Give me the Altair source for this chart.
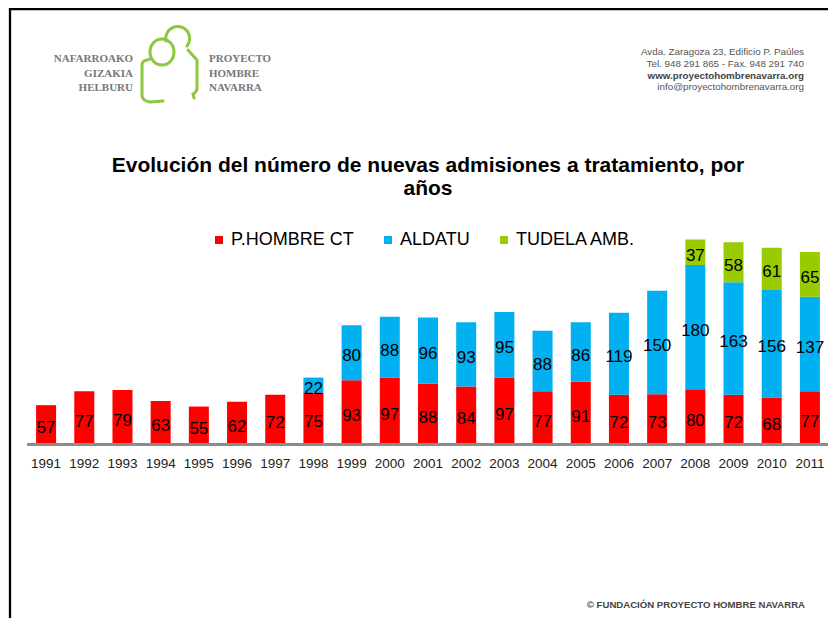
import altair as alt
import pandas as pd

# ---------------- data ----------------
years = ["1991", "1992", "1993", "1994", "1995", "1996", "1997", "1998", "1999", "2000",
         "2001", "2002", "2003", "2004", "2005", "2006", "2007", "2008", "2009", "2010", "2011"]
phombre = [57, 77, 79, 63, 55, 62, 72, 75, 93, 97, 88, 84, 97, 77, 91, 72, 73, 80, 72, 68, 77]
aldatu = [None, None, None, None, None, None, None, 22, 80, 88, 96, 93, 95, 88, 86, 119, 150, 180, 163, 156, 137]
tudela = [None, None, None, None, None, None, None, None, None, None, None, None, None, None, None, None, None, 37, 58, 61, 65]
series = ["P.HOMBRE CT", "ALDATU", "TUDELA AMB."]
colors = ["#FF0000", "#00B0F0", "#99CC00"]

title_lines = ["Evolución del número de nuevas admisiones a tratamiento, por", "años"]
logo_left = "NAFARROAKO\nGIZAKIA\nHELBURU"
logo_right = "PROYECTO\nHOMBRE\nNAVARRA"
addr_lines = ["Avda. Zaragoza 23, Edificio P. Paúles", "Tel. 948 291 865 - Fax. 948 291 740"]
web_line = "www.proyectohombrenavarra.org"
mail_line = "info@proyectohombrenavarra.org"
footer = "© FUNDACIÓN PROYECTO HOMBRE NAVARRA"

rows = []
for i, yr in enumerate(years):
    for k, (name, vals) in enumerate(zip(series, [phombre, aldatu, tudela])):
        v = vals[i]
        if v is not None:
            rows.append({"year": yr, "series": name, "value": v, "order": k})
df = pd.DataFrame(rows)

FONT = "Liberation Sans"
one = pd.DataFrame({"k": [0]})

x_scale = alt.Scale(domain=years, range=[19, 821], paddingInner=0.476, paddingOuter=0.238)
y_scale = alt.Scale(domain=[0, 300], range=[436.5, 229.5], nice=False, zero=True)

stacked = alt.Chart(df).transform_stack(
    stack="value", groupby=["year"], as_=["v0", "v1"],
    sort=[alt.SortField("order", order="ascending")]
).transform_calculate(mid="(datum.v0 + datum.v1) / 2")

bars = stacked.mark_bar().encode(
    x=alt.X("year:N", scale=x_scale, axis=None),
    y=alt.Y("v0:Q", scale=y_scale, axis=None),
    y2="v1:Q",
    color=alt.Color(
        "series:N",
        scale=alt.Scale(domain=series, range=colors),
        legend=alt.Legend(
            title=None, orient="none", legendX=202, legendY=223, direction="horizontal",
            symbolType="square", symbolSize=64, symbolStrokeWidth=0,
            labelFont=FONT, labelFontSize=18, labelColor="#000000",
            labelOffset=3, columnPadding=25, padding=0,
        ),
    ),
)

labels = stacked.mark_text(font=FONT, fontSize=17, color="#000000", baseline="alphabetic", dy=8.6).encode(
    x=alt.X("year:N", scale=x_scale, axis=None),
    y=alt.Y("mid:Q", scale=y_scale, axis=None),
    text="value:Q",
)

baseline = alt.Chart(one).mark_rule(color="#8c8c8c", strokeWidth=3).encode(
    y=alt.datum(0, scale=y_scale), x=alt.value(19), x2=alt.value(828)
)

year_labels = alt.Chart(pd.DataFrame({"year": years})).mark_text(
    font=FONT, fontSize=13.5, color="#222222", baseline="alphabetic"
).encode(x=alt.X("year:N", scale=x_scale, axis=None), y=alt.value(460), text="year:N")

# ---------------- decorations ----------------
frame_top = alt.Chart(one).mark_rule(color="#000000", strokeWidth=2.3).encode(
    x=alt.value(1), x2=alt.value(820), y=alt.value(1)
)
frame_left = alt.Chart(one).mark_rule(color="#000000", strokeWidth=2.3).encode(
    x=alt.value(2), y=alt.value(0), y2=alt.value(621)
)

title1 = alt.Chart(one).mark_text(font=FONT, fontSize=21, fontWeight="bold", align="center",
                                  baseline="alphabetic", color="#000000").encode(
    x=alt.value(420), y=alt.value(164), text=alt.value(title_lines[0]))
title2 = alt.Chart(one).mark_text(font=FONT, fontSize=21, fontWeight="bold", align="center",
                                  baseline="alphabetic", color="#000000").encode(
    x=alt.value(420), y=alt.value(187), text=alt.value(title_lines[1]))

logo_l = alt.Chart(one).mark_text(font="Liberation Serif", fontSize=11, fontWeight="bold", align="right",
                                  baseline="alphabetic", color="#777777", lineBreak="\n", lineHeight=14.5).encode(
    x=alt.value(125), y=alt.value(54), text=alt.value(logo_left))
logo_r = alt.Chart(one).mark_text(font="Liberation Serif", fontSize=11, fontWeight="bold", align="left",
                                  baseline="alphabetic", color="#777777", lineBreak="\n", lineHeight=14.5).encode(
    x=alt.value(201), y=alt.value(54), text=alt.value(logo_right))

LOGO_PATH = (
    "M -0.5 -0.3 A 0.3 0.325 0 1 0 0.1 -0.3 A 0.3 0.325 0 1 0 -0.5 -0.3 "
    "M -0.1 -0.575 A 0.3 0.3 0 1 1 0.425 -0.45 "
    "M 0.45 -0.35 L 0.675 -0.1 L 0.675 0.6 Q 0.675 0.7 0.575 0.75 L 0.6 0.85 "
    "M -0.5 -0.125 L -0.65 -0.075 Q -0.7 -0.05 -0.7 0.05 L -0.7 0.8 Q -0.675 0.925 -0.5 0.95 L -0.175 0.925"
)
logo_fig = alt.Chart(one).mark_point(shape=LOGO_PATH, size=6400, filled=False, stroke="#8dc63f",
                                     strokeWidth=3, opacity=1, strokeCap="round").encode(
    x=alt.value(162), y=alt.value(56))

addr = alt.Chart(one).mark_text(font=FONT, fontSize=9.8, align="right", baseline="alphabetic",
                                color="#555555", lineBreak="\n", lineHeight=12).encode(
    x=alt.value(796), y=alt.value(47), text=alt.value("\n".join(addr_lines)))
web = alt.Chart(one).mark_text(font=FONT, fontSize=9.8, fontWeight="bold", align="right", baseline="alphabetic",
                               color="#444444").encode(
    x=alt.value(796), y=alt.value(71), text=alt.value(web_line))
mail = alt.Chart(one).mark_text(font=FONT, fontSize=9.8, align="right", baseline="alphabetic",
                                color="#555555").encode(
    x=alt.value(796), y=alt.value(82), text=alt.value(mail_line))
foot = alt.Chart(one).mark_text(font=FONT, fontSize=9.6, fontWeight="bold", align="right", baseline="alphabetic",
                                color="#444444").encode(
    x=alt.value(797), y=alt.value(600), text=alt.value(footer))

chart = alt.layer(
    frame_top, frame_left, logo_fig, logo_l, logo_r, addr, web, mail, title1, title2,
    bars, labels, baseline, year_labels, foot
).properties(
    width=820, height=610, autosize=alt.AutoSizeParams(type="none"), padding=0, background="white"
).configure_view(strokeWidth=0)

chart.save("out.html", embed_options={"renderer": "svg", "actions": False})
